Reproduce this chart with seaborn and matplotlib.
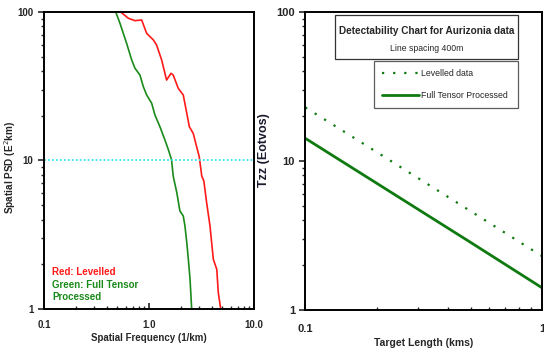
import numpy as np
import pandas as pd
import matplotlib
matplotlib.use("Agg")
import matplotlib.pyplot as plt
import seaborn as sns
from matplotlib.patches import Rectangle
from matplotlib.ticker import LogLocator, NullFormatter, FixedLocator, FixedFormatter

# left panel: spatial PSD curves
red_freq = [0.537, 0.635, 0.735, 0.851, 0.95, 1.10, 1.18, 1.32, 1.47, 1.62, 1.70, 1.90,
            2.12, 2.29, 2.42, 2.64, 2.84, 3.01, 3.18, 3.33, 3.54, 3.81, 4.10, 4.42, 4.57, 4.82]
red_psd = [100, 90.7, 87.4, 88.3, 71.8, 64.8, 60.0, 47.5, 34.8, 38.6, 37.6, 30.6,
           27.6, 20.8, 16.9, 15.2, 12.4, 10.6, 7.86, 7.28, 5.2, 3.62, 2.16, 1.85, 1.29, 1.0]
green_freq = [0.482, 0.529, 0.612, 0.684, 0.735, 0.82, 0.883, 0.95, 1.06, 1.14, 1.27, 1.42,
              1.53, 1.64, 1.70, 1.84, 1.97, 2.12, 2.20, 2.29, 2.37, 2.46, 2.55]
green_psd = [100, 83.9, 61.5, 47.5, 41.8, 37.6, 31.4, 27.6, 24.3, 20.2, 16.9, 13.7,
             11.8, 10.1, 7.86, 6.07, 4.57, 4.23, 3.62, 2.80, 2.16, 1.58, 1.0]

# right panel: detectability
target_len = [0.1, 0.2, 0.5, 1.0]
levelled_tzz = [22.9, 11.5, 4.6, 2.3]
fulltensor_tzz = [14.2, 7.1, 2.84, 1.41]

sns.set_style("ticks")
plt.rcParams['font.family'] = ['Liberation Sans', 'DejaVu Sans']

fig = plt.figure(figsize=(5.44, 3.52), dpi=100)
ax1 = fig.add_axes([0.0809, 0.1222, 0.386, 0.8438])
ax2 = fig.add_axes([0.5612, 0.1193, 0.4351, 0.8466])

# ---- left
red_df = pd.DataFrame({"f": red_freq, "psd": red_psd})
green_df = pd.DataFrame({"f": green_freq, "psd": green_psd})
sns.lineplot(data=red_df, x="f", y="psd", ax=ax1, color="#ff1a1a", lw=1.2, sort=False)
sns.lineplot(data=green_df, x="f", y="psd", ax=ax1, color="#1a8a1a", lw=1.2, sort=False)
ax1.axhline(10, color="#33e6f0", ls=(0, (1, 1.2)), lw=1.3)
ax1.set_xscale("log")
ax1.set_yscale("log")
ax1.set_xlim(0.1, 10)
ax1.set_ylim(1, 100)
ax1.xaxis.set_major_locator(FixedLocator([0.1, 1, 10]))
ax1.xaxis.set_major_formatter(FixedFormatter(["0.1", "1.0", "10.0"]))
ax1.yaxis.set_major_locator(FixedLocator([1, 10, 100]))
ax1.yaxis.set_major_formatter(FixedFormatter(["1", "10", "100"]))
ax1.xaxis.set_minor_locator(LogLocator(base=10, subs=np.arange(2, 10)))
ax1.yaxis.set_minor_locator(LogLocator(base=10, subs=np.arange(2, 10)))
ax1.xaxis.set_minor_formatter(NullFormatter())
ax1.yaxis.set_minor_formatter(NullFormatter())
ax1.tick_params(axis="x", which="both", direction="in", pad=8)
ax1.tick_params(axis="y", which="both", direction="out")
ax1.tick_params(which="major", length=4, width=1.2, labelsize=7)
ax1.tick_params(which="minor", length=2.5, width=1)
for lab in ax1.get_xticklabels() + ax1.get_yticklabels():
    lab.set_fontweight("bold")
ax1.set_xlabel("Spatial Frequency (1/km)", fontsize=7, fontweight="bold", labelpad=2)
ax1.set_ylabel("Spatial PSD (E$^2$km)", fontsize=7.2, fontweight="bold")
ax1.yaxis.set_label_coords(-0.124, 0.476)
ax1.text(0.04, 0.125, "Red: Levelled", color="#ff1a1a", fontsize=7, fontweight="bold",
         transform=ax1.transAxes, va="center")
ax1.text(0.04, 0.061, "Green: Full Tensor\nProcessed", color="#1a8a1a", fontsize=7,
         fontweight="bold", transform=ax1.transAxes, linespacing=1.2, va="center")

# ---- right
right_df = pd.DataFrame({"L": target_len + target_len,
                         "tzz": levelled_tzz + fulltensor_tzz,
                         "kind": ["Levelled data"] * 4 + ["Full Tensor Processed"] * 4})
sns.lineplot(data=right_df, x="L", y="tzz", hue="kind", style="kind", ax=ax2,
             palette={"Levelled data": "#0f7a0f", "Full Tensor Processed": "#0f7a0f"},
             dashes={"Levelled data": (1, 4), "Full Tensor Processed": ""},
             size="kind", sizes={"Levelled data": 1.6, "Full Tensor Processed": 2.0})
ax2.set_xscale("log")
ax2.set_yscale("log")
ax2.set_xlim(0.1, 1)
ax2.set_ylim(1, 100)
ax2.xaxis.set_major_locator(FixedLocator([0.1, 1]))
ax2.xaxis.set_major_formatter(FixedFormatter(["0.1", "1"]))
ax2.yaxis.set_major_locator(FixedLocator([1, 10, 100]))
ax2.yaxis.set_major_formatter(FixedFormatter(["1", "10", "100"]))
ax2.xaxis.set_minor_locator(LogLocator(base=10, subs=np.arange(2, 10)))
ax2.yaxis.set_minor_locator(LogLocator(base=10, subs=np.arange(2, 10)))
ax2.xaxis.set_minor_formatter(NullFormatter())
ax2.yaxis.set_minor_formatter(NullFormatter())
ax2.tick_params(axis="x", which="both", direction="in", pad=10)
ax2.tick_params(axis="y", which="both", direction="out")
ax2.tick_params(which="major", length=4, width=1.2, labelsize=8)
ax2.tick_params(which="minor", length=2.5, width=1)
for lab in ax2.get_xticklabels() + ax2.get_yticklabels():
    lab.set_fontweight("bold")
ax2.set_xlabel("Target Length (kms)", fontsize=7.5, fontweight="bold", labelpad=3)
ax2.set_ylabel("Tzz (Eotvos)", fontsize=9, fontweight="bold", color="#1a1a2e")
ax2.yaxis.set_label_coords(-0.149, 0.537)

# title box
ax2.add_patch(Rectangle((0.125, 0.842), 0.774, 0.148, transform=ax2.transAxes,
                        facecolor="white", edgecolor="#333333", lw=0.9, zorder=5))
ax2.text(0.512, 0.935, "Detectability Chart for Aurizonia data", transform=ax2.transAxes,
         ha="center", va="center", fontsize=7.2, fontweight="bold", zorder=6)
ax2.text(0.512, 0.878, "Line spacing 400m", transform=ax2.transAxes,
         ha="center", va="center", fontsize=6.2, zorder=6)

handles, labels = ax2.get_legend_handles_labels()
seen = {}
for h, l in zip(handles, labels):
    seen.setdefault(l, h)
leg = ax2.legend([seen["Levelled data"], seen["Full Tensor Processed"]],
                 ["Levelled data", "Full Tensor Processed"],
                 loc="upper left", bbox_to_anchor=(0.29, 0.681, 0.609, 0.155), mode="expand",
                 fontsize=6.3, frameon=True, fancybox=False, edgecolor="#333333",
                 handlelength=4.2, handletextpad=0.3, labelspacing=1.5, borderpad=0.9,
                 borderaxespad=0)
leg.get_frame().set_linewidth(0.9)

for ax in (ax1, ax2):
    for s in ax.spines.values():
        s.set_visible(True)
        s.set_color("black")
        s.set_linewidth(1.4)

fig.savefig("out.png", dpi=100, facecolor="white")
